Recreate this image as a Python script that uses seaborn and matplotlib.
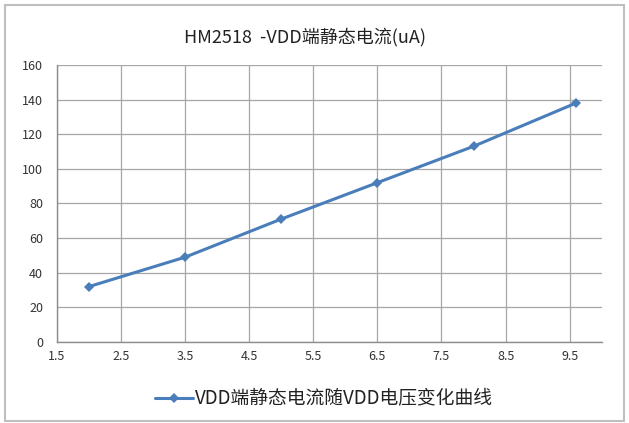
import matplotlib
matplotlib.use('Agg')
import pandas as pd
import seaborn as sns
import matplotlib.pyplot as plt
from matplotlib.patches import Rectangle

# =========================================
# DATA
# =========================================

vdd_voltage = [2.0, 3.5, 5.0, 6.5, 8.0, 9.6]
static_current = [32, 49, 71, 92, 113, 138]

x_ticks = [1.5, 2.5, 3.5, 4.5, 5.5, 6.5, 7.5, 8.5, 9.5]
y_ticks = [0, 20, 40, 60, 80, 100, 120, 140, 160]

title_text = "HM2518  -VDD端静态电流(uA)"
series_name = "VDD端静态电流随VDD电压变化曲线"

df = pd.DataFrame({
    "VDD": vdd_voltage,
    "I": static_current,
    "series": series_name
})

# =========================================
# STYLE
# =========================================

sns.set_style("white")
plt.rcParams['font.family'] = ['Noto Sans CJK SC', 'DejaVu Sans']

fig = plt.figure(figsize=(6.29, 4.23), dpi=100)
ax = fig.add_axes([0.0906, 0.1915, 0.866, 0.655])

sns.lineplot(
    data=df,
    x="VDD",
    y="I",
    hue="series",
    palette=["#4A7EBB"],
    marker="D",
    markersize=5,
    markeredgewidth=0,
    linewidth=2.2,
    ax=ax
)

ax.set_xlim(1.5, 10.0)
ax.set_ylim(0, 160)
ax.set_xticks(x_ticks)
ax.set_yticks(y_ticks)
ax.set_xticklabels([f"{v}" for v in x_ticks], fontsize=9, color="#333333")
ax.set_yticklabels([str(v) for v in y_ticks], fontsize=9, color="#333333")
ax.tick_params(axis="x", pad=6, length=0)
ax.tick_params(axis="y", pad=10, length=0)

ax.grid(True, color="#A6A6A6", linewidth=0.9)
ax.set_axisbelow(True)

for side in ["top", "right"]:
    ax.spines[side].set_visible(False)
for side in ["left", "bottom"]:
    ax.spines[side].set_color("#8C8C8C")
    ax.spines[side].set_linewidth(1.0)

ax.set_xlabel("")
ax.set_ylabel("")

# title
fig.text(0.485, 0.912, title_text, ha="center", va="center",
         fontsize=13, color="#222222", weight="medium")

# legend
handles, labels = ax.get_legend_handles_labels()
ax.get_legend().remove()
fig.legend(handles, labels, loc="center", bbox_to_anchor=(0.515, 0.057),
           frameon=False, fontsize=13.5, handlelength=2.0,
           handletextpad=0.1, labelcolor="#222222")

# outer border
fig.patches.append(Rectangle((0.008, 0.005), 0.984, 0.982,
                             transform=fig.transFigure, fill=False,
                             edgecolor="#BFBFBF", linewidth=1.5))

fig.savefig("out.png", dpi=100)
plt.close(fig)
